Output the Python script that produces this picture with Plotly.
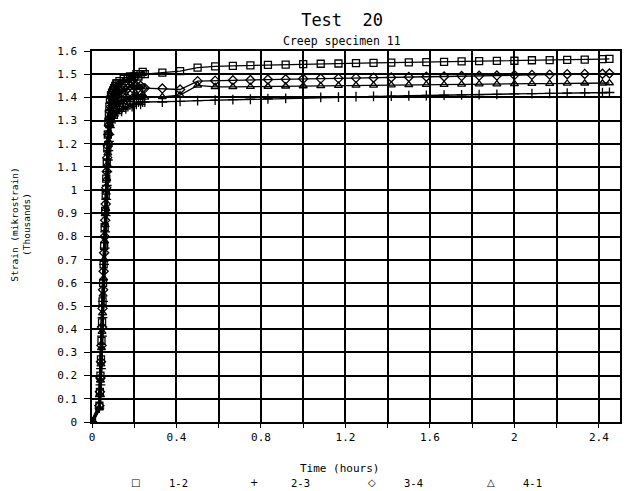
import plotly.graph_objects as go

# time in hours: dense readings during loading, then every 5 minutes
time_hours = [0,
              0.0350, 0.0375, 0.0400, 0.0425, 0.0450, 0.0475, 0.0500, 0.0525, 0.0550, 0.0575,
              0.0600, 0.0625, 0.0650, 0.0675, 0.0700, 0.0725, 0.0750, 0.0775, 0.0800, 0.0825,
              0.0850,
              0.090, 0.095, 0.100, 0.105, 0.110, 0.115, 0.120, 0.130, 0.140, 0.150,
              0.160, 0.170, 0.180, 0.190, 0.200, 0.210, 0.220, 0.230, 0.240, 0.250,
              0.333, 0.417, 0.500, 0.583, 0.667, 0.750, 0.833, 0.917, 1.000, 1.083,
              1.167, 1.250, 1.333, 1.417, 1.500, 1.583, 1.667, 1.750, 1.833, 1.917,
              2.000, 2.083, 2.167, 2.250, 2.333, 2.417, 2.450]

# strain (thousands of microstrain) per gauge pair
strain_12 = [0,
             0.07, 0.13, 0.20, 0.27, 0.35, 0.43, 0.52, 0.60, 0.68, 0.76,
             0.84, 0.91, 0.98, 1.05, 1.12, 1.18, 1.24, 1.29, 1.33, 1.36,
             1.39,
             1.41, 1.42, 1.43, 1.44, 1.45, 1.46, 1.46, 1.47, 1.46, 1.48,
             1.47, 1.48, 1.49, 1.48, 1.49, 1.50, 1.49, 1.50, 1.51, 1.50,
             1.507, 1.513, 1.528, 1.534, 1.536, 1.538, 1.540, 1.541, 1.543, 1.545,
             1.546, 1.548, 1.549, 1.550, 1.551, 1.552, 1.553, 1.555, 1.556, 1.557,
             1.558, 1.560, 1.561, 1.562, 1.563, 1.565, 1.566]
strain_23 = [0,
             0.06, 0.11, 0.16, 0.23, 0.30, 0.37, 0.45, 0.52, 0.60, 0.68,
             0.75, 0.82, 0.89, 0.96, 1.02, 1.08, 1.13, 1.17, 1.21, 1.24,
             1.27,
             1.29, 1.30, 1.31, 1.32, 1.33, 1.34, 1.33, 1.35, 1.34, 1.36,
             1.35, 1.36, 1.37, 1.36, 1.37, 1.37, 1.38, 1.37, 1.38, 1.38,
             1.380, 1.383, 1.386, 1.388, 1.390, 1.392, 1.394, 1.396, 1.398, 1.400,
             1.401, 1.403, 1.404, 1.405, 1.407, 1.408, 1.410, 1.411, 1.412, 1.413,
             1.415, 1.416, 1.417, 1.418, 1.419, 1.420, 1.421]
strain_34 = [0,
             0.07, 0.13, 0.19, 0.26, 0.33, 0.41, 0.49, 0.57, 0.65, 0.73,
             0.80, 0.87, 0.94, 1.01, 1.08, 1.14, 1.19, 1.24, 1.28, 1.31,
             1.34,
             1.36, 1.38, 1.39, 1.40, 1.41, 1.42, 1.41, 1.43, 1.42, 1.44,
             1.43, 1.44, 1.45, 1.44, 1.45, 1.45, 1.44, 1.45, 1.44, 1.44,
             1.438, 1.434, 1.470, 1.472, 1.474, 1.475, 1.477, 1.478, 1.480, 1.481,
             1.482, 1.484, 1.485, 1.486, 1.488, 1.489, 1.490, 1.492, 1.493, 1.494,
             1.496, 1.497, 1.498, 1.500, 1.501, 1.502, 1.503]
strain_41 = [0,
             0.06, 0.12, 0.18, 0.25, 0.32, 0.39, 0.47, 0.55, 0.62, 0.70,
             0.78, 0.85, 0.92, 0.99, 1.05, 1.11, 1.16, 1.21, 1.25, 1.28,
             1.31,
             1.33, 1.34, 1.35, 1.36, 1.37, 1.37, 1.38, 1.37, 1.39, 1.38,
             1.39, 1.40, 1.39, 1.40, 1.40, 1.41, 1.40, 1.40, 1.41, 1.40,
             1.402, 1.410, 1.452, 1.445, 1.445, 1.446, 1.447, 1.448, 1.449, 1.450,
             1.451, 1.452, 1.452, 1.453, 1.454, 1.455, 1.455, 1.456, 1.457, 1.457,
             1.458, 1.459, 1.459, 1.460, 1.461, 1.461, 1.462]

series_names = ['1-2', '2-3', '3-4', '4-1']
legend_glyphs = ['\u25a1', '+', '\u25c7', '\u25b3']
x_tickvals = [0, 0.2, 0.4, 0.6, 0.8, 1.0, 1.2, 1.4, 1.6, 1.8, 2.0, 2.2, 2.4]
x_ticktext = ['0', '', '0.4', '', '0.8', '', '1.2', '', '1.6', '', '2', '', '2.4']

MONO = 'DejaVu Sans Mono'
symbols = ['square-open', 'cross-thin-open', 'diamond-open', 'triangle-up-open']
series = [strain_12, strain_23, strain_34, strain_41]
n_dense = 42  # readings up to 0.25 h, plotted so densely they merge

fig = go.Figure()
for name, ys, sym in zip(series_names, series, symbols):
    # heavy stroke where the loading readings pile up
    fig.add_trace(go.Scatter(
        x=time_hours[:n_dense], y=ys[:n_dense], mode='lines', showlegend=False,
        line=dict(color='black', width=3), hoverinfo='skip',
    ))
    fig.add_trace(go.Scatter(
        x=time_hours, y=ys, mode='lines+markers', name=name, showlegend=False,
        line=dict(color='black', width=1.3),
        marker=dict(symbol=sym, size=7, color='black', line=dict(width=1.3, color='black')),
    ))

# legend drawn as a row of text: glyph then label
legend_glyph_x = [0.083, 0.307, 0.530, 0.756]
legend_text_x = [0.142, 0.373, 0.587, 0.8125]
annotations = []
for glyph, name, gx, tx in zip(legend_glyphs, series_names, legend_glyph_x, legend_text_x):
    annotations.append(dict(text=glyph, xref='paper', yref='paper', x=gx, y=-0.164,
                            xanchor='center', yanchor='middle', showarrow=False,
                            font=dict(family='DejaVu Sans', size=10)))
    annotations.append(dict(text=name, xref='paper', yref='paper', x=tx, y=-0.164,
                            xanchor='left', yanchor='middle', showarrow=False,
                            font=dict(family=MONO, size=10.5)))

annotations += [
    dict(text='Creep specimen 11', xref='paper', yref='paper', x=0.4735, y=1.027,
         xanchor='center', yanchor='middle', showarrow=False,
         font=dict(family=MONO, size=11.5)),
    dict(text='Time (hours)', xref='paper', yref='paper', x=0.468, y=-0.124,
         xanchor='center', yanchor='middle', showarrow=False,
         font=dict(family=MONO, size=11)),
    dict(text='Strain (mikrostrain)<br>(Thousands)', xref='paper', yref='paper',
         x=-0.135, y=0.531, xanchor='center', yanchor='middle', textangle=-90,
         showarrow=False, font=dict(family=MONO, size=9.5)),
]

fig.update_layout(
    width=628, height=483,
    margin=dict(l=84, r=16, t=43, b=69),
    paper_bgcolor='white', plot_bgcolor='white',
    font=dict(family=MONO, size=11, color='black'),
    showlegend=False,
    title=dict(text='Test  20', x=0.532, xanchor='center', y=0.976, yanchor='middle',
               font=dict(family=MONO, size=17, color='black')),
    annotations=annotations,
)
fig.update_xaxes(
    range=[0, 2.5], tickvals=x_tickvals, ticktext=x_ticktext,
    showgrid=True, gridcolor='black', gridwidth=1.5,
    showline=True, linecolor='black', linewidth=1.5, mirror=True,
    ticks='outside', ticklen=4, tickcolor='black', ticklabelstandoff=0,
    zeroline=False, automargin=False,
)
fig.update_yaxes(
    range=[0, 1.6], dtick=0.1, tick0=0,
    showgrid=True, gridcolor='black', gridwidth=1.5,
    showline=True, linecolor='black', linewidth=1.5, mirror=True,
    ticks='outside', ticklen=6, tickcolor='black', ticklabelstandoff=5,
    zeroline=False, automargin=False,
)

fig.write_html("out.html")
